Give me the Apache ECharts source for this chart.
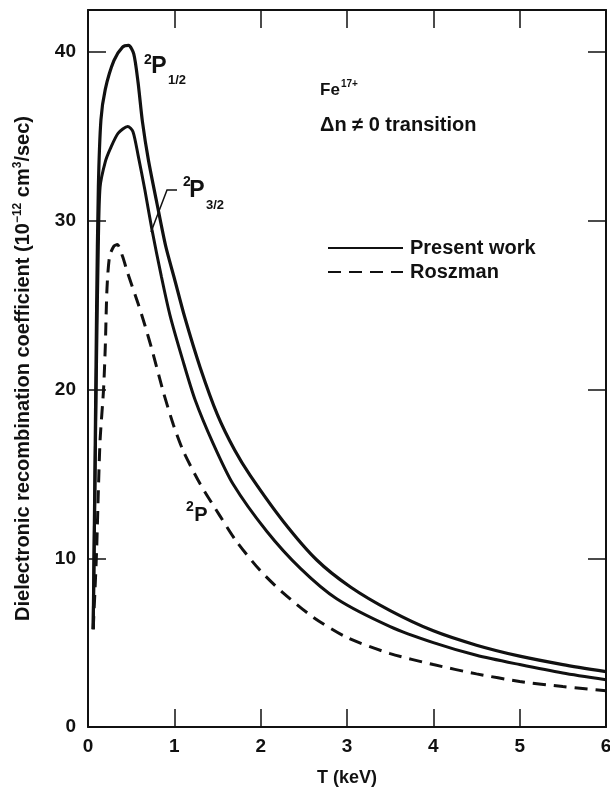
<!DOCTYPE html>
<html>
<head>
<meta charset="utf-8">
<script src="https://cdn.jsdelivr.net/npm/echarts@6/dist/echarts.min.js"></script>
<style>
  html, body { margin: 0; padding: 0; background: #fff; }
  #chart { width: 610px; height: 791px; }
</style>
</head>
<body>
<div id="chart"></div>
<script>
// T (keV) and coefficient (1e-12 cm^3/sec)
var tP12 = [0.06, 0.08, 0.10, 0.12, 0.15, 0.20, 0.30, 0.40, 0.47, 0.53, 0.58, 0.63, 0.70, 0.80, 0.90, 1.00, 1.12, 1.30, 1.50, 1.70, 1.88, 2.26, 2.65, 3.04, 3.50, 4.00, 4.50, 5.00, 5.50, 6.00];
var vP12 = [5.8, 15, 25, 32, 36, 37.8, 39.5, 40.3, 40.4, 39.9, 38.2, 35.9, 33.6, 31.0, 28.5, 26.6, 24.3, 21.3, 18.5, 16.4, 14.9, 12.2, 9.9, 8.3, 6.9, 5.7, 4.85, 4.2, 3.7, 3.28];

var tP32 = [0.06, 0.08, 0.10, 0.12, 0.14, 0.20, 0.26, 0.35, 0.46, 0.52, 0.58, 0.66, 0.74, 0.85, 0.95, 1.10, 1.24, 1.45, 1.68, 2.07, 2.46, 2.88, 3.50, 4.00, 4.50, 5.00, 5.50, 6.00];
var vP32 = [5.8, 14, 22, 28.5, 32, 33.5, 34.3, 35.2, 35.6, 35.3, 33.9, 31.8, 29.5, 26.7, 24.4, 21.7, 19.4, 16.8, 14.4, 11.6, 9.4, 7.6, 5.95, 5.0, 4.25, 3.7, 3.2, 2.8];

var tRosz = [0.06, 0.08, 0.10, 0.12, 0.14, 0.18, 0.20, 0.22, 0.25, 0.30, 0.34, 0.40, 0.46, 0.58, 0.66, 0.75, 0.87, 0.99, 1.10, 1.30, 1.53, 1.72, 1.99, 2.26, 2.61, 3.00, 3.50, 4.00, 4.50, 5.00, 5.50, 6.00];
var vRosz = [5.8, 8, 10.5, 14, 17, 20, 22.5, 26, 27.9, 28.5, 28.6, 27.9, 26.9, 25.1, 23.8, 22.2, 19.9, 17.9, 16.4, 14.4, 12.5, 11.0, 9.3, 7.95, 6.5, 5.3, 4.35, 3.7, 3.15, 2.7, 2.4, 2.15];

var xTicks = [0, 1, 2, 3, 4, 5, 6];
var yTicks = [0, 10, 20, 30, 40];

var FONT = 'Liberation Sans, Arial, Helvetica, sans-serif';
var INK = '#111';

function pairs(xs, ys) {
    var out = [];
    for (var i = 0; i < xs.length; i++) {
        out.push([xs[i], ys[i]]);
    }
    return out;
}

// helper for the 2P-style labels (superscript, main letter, subscript)
function termLabel(supX, supY, mainX, mainY, mainSize, sub, subX, subY) {
    var els = [
        { type: 'text', x: supX, y: supY, style: { text: '2', font: 'bold 14px ' + FONT, fill: INK, align: 'center', verticalAlign: 'middle' } },
        { type: 'text', x: mainX, y: mainY, style: { text: 'P', font: 'bold ' + mainSize + 'px ' + FONT, fill: INK, align: 'center', verticalAlign: 'middle' } }
    ];
    if (sub) {
        els.push({ type: 'text', x: subX, y: subY, style: { text: sub, font: 'bold 13px ' + FONT, fill: INK, align: 'center', verticalAlign: 'middle' } });
    }
    return els;
}

var myChart = echarts.init(document.getElementById('chart'));

var axisCommon = {
    type: 'value',
    axisLine: { show: true, onZero: false, lineStyle: { color: INK, width: 2 } },
    axisTick: { show: true, inside: true, length: 18, lineStyle: { color: INK, width: 1.5 } },
    splitLine: { show: false }
};

var graphics = []
    .concat(termLabel(148, 60, 159, 67, 23, '1/2', 177, 80))
    .concat(termLabel(187, 182, 197, 191, 23, '3/2', 215, 205))
    .concat(termLabel(190, 507, 201, 515, 20, null));

graphics.push({
    type: 'polyline',
    shape: { points: [[177, 190], [167, 190], [151, 232]] },
    style: { stroke: INK, lineWidth: 1.5, fill: null }
});
graphics.push({ type: 'text', x: 320, y: 90, style: { text: 'Fe', font: 'bold 17px ' + FONT, fill: INK, verticalAlign: 'middle' } });
graphics.push({ type: 'text', x: 341, y: 84, style: { text: '17+', font: 'bold 10px ' + FONT, fill: INK, verticalAlign: 'middle' } });
graphics.push({ type: 'text', x: 320, y: 125, style: { text: '\u0394n \u2260 0 transition', font: 'bold 20px ' + FONT, fill: INK, verticalAlign: 'middle' } });

var options = {
    backgroundColor: '#fff',
    animation: false,
    grid: { left: 88, right: 4, top: 10, bottom: 64, outerBoundsMode: 'none', containLabel: false },
    legend: {
        data: ['Present work', 'Roszman'],
        orient: 'vertical',
        left: 322,
        top: 233,
        itemWidth: 75,
        itemHeight: 14,
        itemGap: 4,
        itemStyle: { opacity: 0 },
        textStyle: { fontFamily: FONT, fontWeight: 'bold', fontSize: 20, color: INK, padding: [0, 0, 0, 2] }
    },
    xAxis: [
        Object.assign({}, axisCommon, {
            min: 0, max: 6, interval: 1,
            position: 'bottom',
            name: 'T (keV)',
            nameLocation: 'middle',
            nameGap: 42,
            nameTextStyle: { fontFamily: FONT, fontWeight: 'bold', fontSize: 18, color: INK },
            axisLabel: {
                margin: 10, fontFamily: FONT, fontWeight: 'bold', fontSize: 19, color: INK,
                formatter: function (v) { return xTicks.indexOf(v) >= 0 ? String(v) : ''; }
            }
        }),
        Object.assign({}, axisCommon, {
            min: 0, max: 6, interval: 1,
            position: 'top',
            axisLabel: { show: false }
        })
    ],
    yAxis: [
        Object.assign({}, axisCommon, {
            min: 0, max: 42.5, interval: 10,
            position: 'left',
            name: 'Dielectronic recombination coefficient (10{sup|\u221212} cm{sup|3}/sec)',
            nameLocation: 'middle',
            nameGap: 54,
            nameTextStyle: {
                fontFamily: FONT, fontWeight: 'bold', fontSize: 20, color: INK,
                rich: { sup: { fontFamily: FONT, fontWeight: 'bold', fontSize: 12, color: INK, verticalAlign: 'top', lineHeight: 22 } }
            },
            axisLabel: {
                margin: 12, fontFamily: FONT, fontWeight: 'bold', fontSize: 19, color: INK,
                formatter: function (v) { return yTicks.indexOf(v) >= 0 ? String(v) : ''; }
            }
        }),
        Object.assign({}, axisCommon, {
            min: 0, max: 42.5, interval: 10,
            position: 'right',
            axisLabel: { show: false }
        })
    ],
    series: [
        {
            name: 'Present work',
            type: 'line',
            data: pairs(tP12, vP12),
            showSymbol: false,
            symbol: 'none',
            smooth: 0.25,
            lineStyle: { color: INK, width: 3.2 },
            itemStyle: { color: INK },
            z: 3
        },
        {
            name: 'Present work',
            type: 'line',
            data: pairs(tP32, vP32),
            showSymbol: false,
            symbol: 'none',
            smooth: 0.25,
            lineStyle: { color: INK, width: 3 },
            itemStyle: { color: INK },
            z: 3
        },
        {
            name: 'Roszman',
            type: 'line',
            data: pairs(tRosz, vRosz),
            showSymbol: false,
            symbol: 'none',
            smooth: 0.25,
            lineStyle: { color: INK, width: 3, type: [13, 8] },
            itemStyle: { color: INK },
            z: 3
        }
    ],
    graphic: graphics
};

myChart.setOption(options, true);
</script>
</body>
</html>
